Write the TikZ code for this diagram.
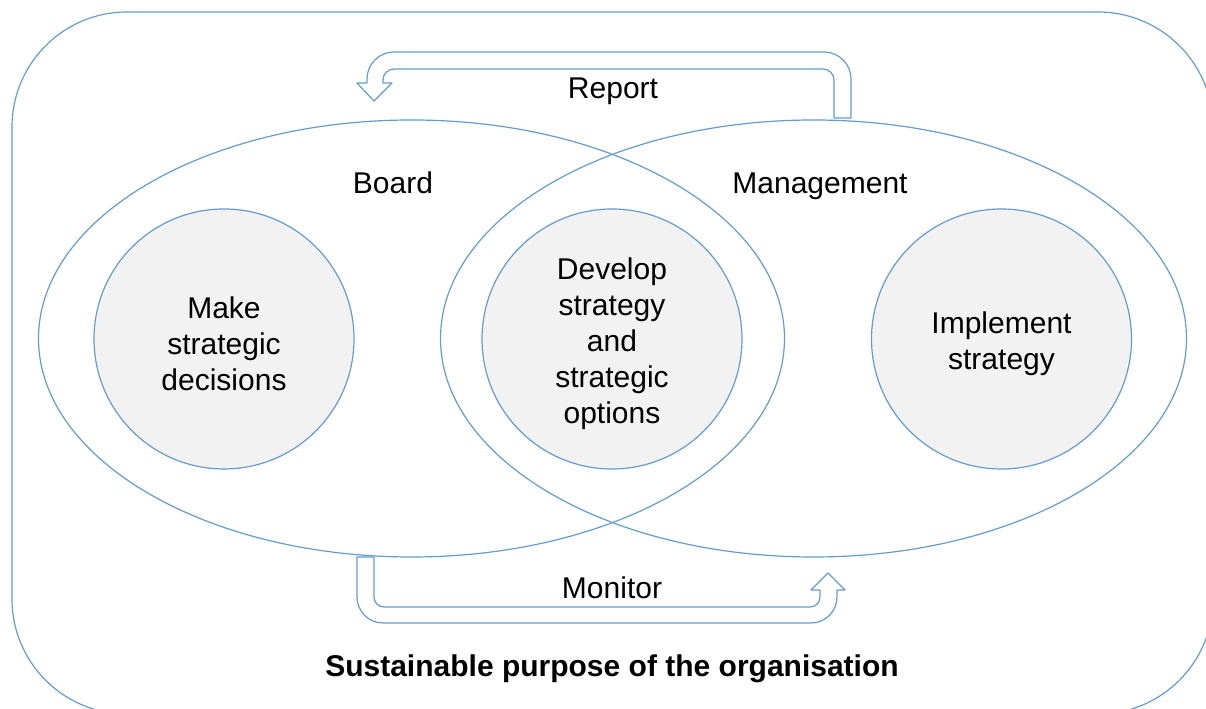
\documentclass[tikz,border=0pt]{standalone}
\usepackage{fontspec}
\setmainfont{Liberation Sans}
\usepackage{xcolor}
\usepackage{tikz}
\usetikzlibrary{shapes.geometric}

\definecolor{edge}{RGB}{100,155,210}
\definecolor{shade}{RGB}{242,242,242}

\begin{document}
\begin{tikzpicture}[x=0.75pt,y=0.75pt,
            every node/.style={font=\fontsize{22.5}{27}\selectfont},
            group/.style={ellipse,draw=edge,line width=0.9pt,
                    minimum width=559.5pt,minimum height=327.75pt},
            task/.style={circle,draw=edge,fill=shade,line width=0.9pt,
                    minimum size=195pt,inner sep=0pt},
            tasktext/.style={align=center,yshift=-3.5pt},
            tag/.style={anchor=base},
            blockarrow/.style={draw=edge,line width=0.9pt,line join=round}]
        \useasboundingbox (0,0) rectangle (1206,709);
        \clip (0,0) rectangle (1206,709);
        \draw[edge,line width=0.9pt,rounded corners=86.25pt] (12,-5) rectangle (1213,697);

        \node[group] (board) at (411.5,370.5) {};
        \node[group] (mgmt) at (813.5,370.5) {};

        \node[task] (decide) at (224,370) {};
        \node[task] (develop) at (612,370) {};
        \node[task] (implement) at (1001.5,370) {};
        \node[tasktext] (decidetxt) at (decide) {Make\\strategic\\decisions};
        \node[tasktext] (developtxt) at (develop) {Develop\\strategy\\and\\strategic\\options};
        \node[tasktext] (implementtxt) at (implement) {Implement\\strategy};

        \node[tag] (boardlbl) at (393,515) {Board};
        \node[tag] (mgmtlbl) at (820,515) {Management};
        \node[tag] (report) at (613,610) {Report};
        \node[tag] (monitor) at (612,110) {Monitor};
        \node[tag,font=\fontsize{22.5}{27}\selectfont\bfseries] (purpose) at (612,32)
            {Sustainable purpose of the organisation};

        % report: from management back to the board
        \draw[blockarrow] (834,591) -- (851,591) -- (851,630)
            arc[start angle=0,end angle=90,radius=27] -- (394,657)
            arc[start angle=90,end angle=180,radius=27] -- (367,626)
            -- (357,626) -- (374,608) -- (392,626) -- (383,626) -- (383,629)
            arc[start angle=180,end angle=90,radius=11] -- (823,640)
            arc[start angle=90,end angle=0,radius=11] -- cycle;

        % monitor: from the board over to management
        \draw[blockarrow] (357,152) -- (357,112)
            arc[start angle=180,end angle=270,radius=26] -- (811,86)
            arc[start angle=270,end angle=360,radius=26] -- (837,119)
            -- (845,119) -- (828,136) -- (811,119) -- (820,119) -- (820,112)
            arc[start angle=0,end angle=-90,radius=10] -- (384,102)
            arc[start angle=270,end angle=180,radius=10] -- (374,152) -- cycle;
    \end{tikzpicture}
\end{document}
